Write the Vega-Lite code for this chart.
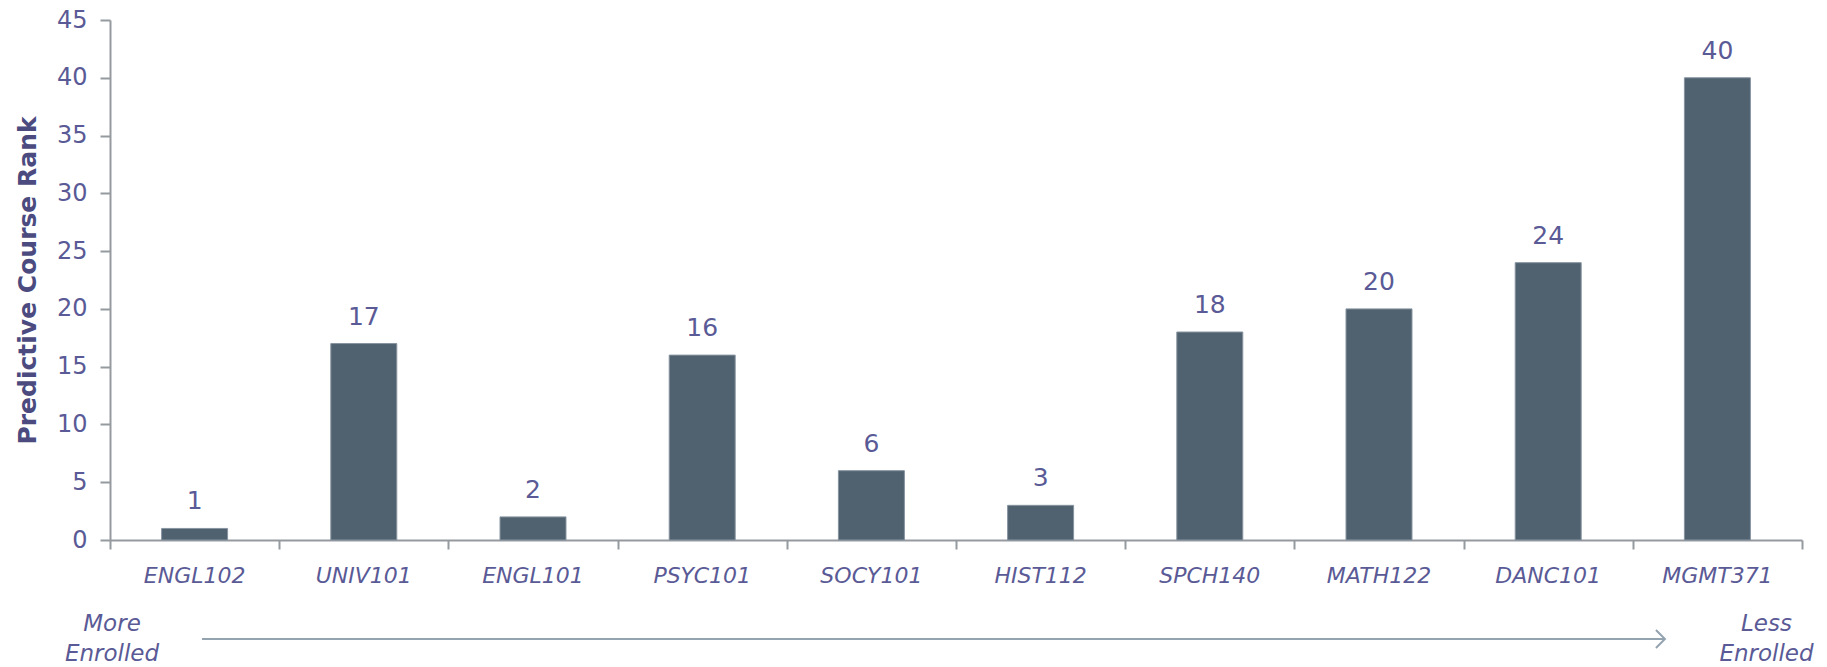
{
  "$schema": "https://vega.github.io/schema/vega-lite/v6.json",
  "width": 1692,
  "height": 520,
  "autosize": "none",
  "padding": {"left": 110, "top": 20, "right": 25, "bottom": 127},
  "background": "white",
  "config": {"view": {"stroke": null}, "font": "DejaVu Sans"},
  "layer": [
    {
      "data": {
        "values": [
          {"course": "ENGL102", "rank": 1},
          {"course": "UNIV101", "rank": 17},
          {"course": "ENGL101", "rank": 2},
          {"course": "PSYC101", "rank": 16},
          {"course": "SOCY101", "rank": 6},
          {"course": "HIST112", "rank": 3},
          {"course": "SPCH140", "rank": 18},
          {"course": "MATH122", "rank": 20},
          {"course": "DANC101", "rank": 24},
          {"course": "MGMT371", "rank": 40}
        ]
      },
      "encoding": {
        "x": {
          "field": "course", "type": "nominal", "sort": null,
          "scale": {"paddingInner": 0.61, "paddingOuter": 0.305},
          "axis": {
            "title": null, "ticks": false, "tickSize": 0, "labelAngle": 0,
            "domainColor": "#959a9f", "domainWidth": 2,
            "labelFont": "DejaVu Sans", "labelFontSize": 22, "labelFontStyle": "italic",
            "labelColor": "#5a5a96", "labelBaseline": "alphabetic", "labelPadding": 42
          }
        },
        "y": {
          "field": "rank", "type": "quantitative",
          "scale": {"domain": [0, 45], "nice": false, "zero": true},
          "axis": {
            "values": [0, 5, 10, 15, 20, 25, 30, 35, 40, 45],
            "grid": false, "tickSize": 10, "tickColor": "#959a9f", "tickWidth": 2,
            "domainColor": "#959a9f", "domainWidth": 2,
            "labelFont": "DejaVu Sans", "labelFontSize": 24, "labelColor": "#5a5a96", "labelPadding": 13,
            "title": "Predictive Course Rank", "titleFont": "DejaVu Sans", "titleFontSize": 25,
            "titleFontWeight": "bold", "titleColor": "#4b4b80", "titlePadding": 16
          }
        }
      },
      "layer": [
        {"mark": {"type": "bar", "color": "#506270", "stroke": "#8794a0", "strokeWidth": 1}},
        {
          "mark": {"type": "text", "baseline": "alphabetic", "dy": -19, "fontSize": 25, "font": "DejaVu Sans", "color": "#5a5a96"},
          "encoding": {"text": {"field": "rank", "type": "quantitative"}}
        }
      ]
    },
    {
      "data": {"values": [{"note": "arrow"}]},
      "layer": [
        {
          "mark": {"type": "rule", "color": "#94a3b0", "strokeWidth": 2},
          "encoding": {
            "x": {
              "datum": 0.544, "type": "quantitative",
              "scale": {"domain": [0, 10], "nice": false, "zero": false},
              "axis": {
                "orient": "bottom", "values": [0, 1, 2, 3, 4, 5, 6, 7, 8, 9, 10],
                "labels": false, "domain": false, "grid": false, "title": null,
                "tickSize": 9, "tickColor": "#959a9f", "tickWidth": 2
              }
            },
            "x2": {"datum": 9.19},
            "y": {"datum": -8.57, "type": "quantitative", "scale": {"domain": [0, 45], "nice": false}, "axis": null}
          }
        },
        {
          "mark": {"type": "point", "shape": "M-1,-1L0,0L-1,1", "filled": false, "stroke": "#94a3b0", "strokeWidth": 2, "size": 324, "opacity": 1},
          "encoding": {
            "x": {"datum": 9.19, "type": "quantitative", "axis": null},
            "y": {"datum": -8.57, "type": "quantitative", "axis": null}
          }
        },
        {
          "mark": {"type": "text", "baseline": "alphabetic", "align": "center", "fontSize": 23, "fontStyle": "italic", "font": "DejaVu Sans", "color": "#5a5a96", "lineHeight": 30},
          "encoding": {
            "x": {"datum": 0.012, "type": "quantitative", "axis": null},
            "y": {"datum": -7.9, "type": "quantitative", "axis": null},
            "text": {"value": ["More", "Enrolled"]}
          }
        },
        {
          "mark": {"type": "text", "baseline": "alphabetic", "align": "center", "fontSize": 23, "fontStyle": "italic", "font": "DejaVu Sans", "color": "#5a5a96", "lineHeight": 30},
          "encoding": {
            "x": {"datum": 9.79, "type": "quantitative", "axis": null},
            "y": {"datum": -7.9, "type": "quantitative", "axis": null},
            "text": {"value": ["Less", "Enrolled"]}
          }
        }
      ],
      "resolve": {"axis": {"x": "independent", "y": "independent"}}
    }
  ],
  "resolve": {"scale": {"x": "independent", "y": "independent"}, "axis": {"x": "independent", "y": "independent"}}
}
